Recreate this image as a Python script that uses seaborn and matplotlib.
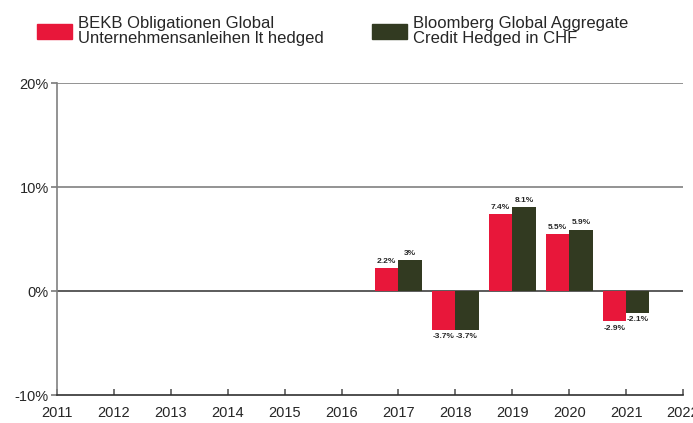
import pandas as pd
import matplotlib
matplotlib.use("Agg")
import matplotlib.pyplot as plt
import seaborn as sns
from matplotlib.patches import Patch

years = [2017, 2018, 2019, 2020, 2021]
fund = [2.2, -3.7, 7.4, 5.5, -2.9]
benchmark = [3.0, -3.7, 8.1, 5.9, -2.1]
series_names = [
    "BEKB Obligationen Global\nUnternehmensanleihen lt hedged",
    "Bloomberg Global Aggregate\nCredit Hedged in CHF",
]
colors = ["#E8173A", "#323A21"]
year_ticks = list(range(2011, 2023))
y_ticks = [-10, 0, 10, 20]

df = pd.DataFrame({
    "year": years * 2,
    "value": fund + benchmark,
    "series": [series_names[0]] * len(years) + [series_names[1]] * len(years),
})

sns.set_theme(style="white")
plt.rcParams["font.family"] = ["Liberation Sans", "DejaVu Sans"]

fig = plt.figure(figsize=(6.93, 4.23), dpi=100)
ax = fig.add_axes([0.0823, 0.066, 0.9033, 0.737])

sns.barplot(data=df, x="year", y="value", hue="series", palette=colors,
            native_scale=True, width=0.82, saturation=1, linewidth=0,
            legend=False, ax=ax)

for cont in ax.containers:
    labels = [f"{v:g}%" for v in cont.datavalues]
    ax.bar_label(cont, labels=labels, padding=2.5, fontsize=6, fontweight="bold")

ax.set_xlim(2011, 2022)
ax.set_ylim(-10, 20)
ax.set_xticks(year_ticks)
ax.set_xticklabels([str(y) for y in year_ticks], fontsize=10.5)
ax.set_yticks(y_ticks)
ax.set_yticklabels([f"{t}%" for t in y_ticks], fontsize=10.5)
ax.set_xlabel("")
ax.set_ylabel("")

for t in [10, 20]:
    ax.axhline(t, color="#808080", lw=1.2, zorder=0)
ax.axhline(0, color="#404040", lw=1.2, zorder=0.5)

for s in ["top", "right"]:
    ax.spines[s].set_visible(False)
ax.spines["left"].set_color("#808080")
ax.spines["left"].set_linewidth(1.2)
ax.spines["bottom"].set_color("#303030")
ax.spines["bottom"].set_linewidth(1.2)
ax.tick_params(axis="y", left=True, length=4, color="#808080", pad=2)
ax.tick_params(axis="x", bottom=True, direction="in", length=4, color="#606060", pad=8)

handles = [Patch(color=c) for c in colors]
leg = fig.legend(handles, series_names, loc="upper left", bbox_to_anchor=(0.037, 0.99),
                 ncol=2, frameon=False, fontsize=12, handlelength=2.1, handleheight=1.0,
                 handletextpad=0.36, columnspacing=2.9, borderpad=0.2)
for txt in leg.get_texts():
    txt.set_linespacing(1.05)

fig.savefig("out.png", dpi=100)
